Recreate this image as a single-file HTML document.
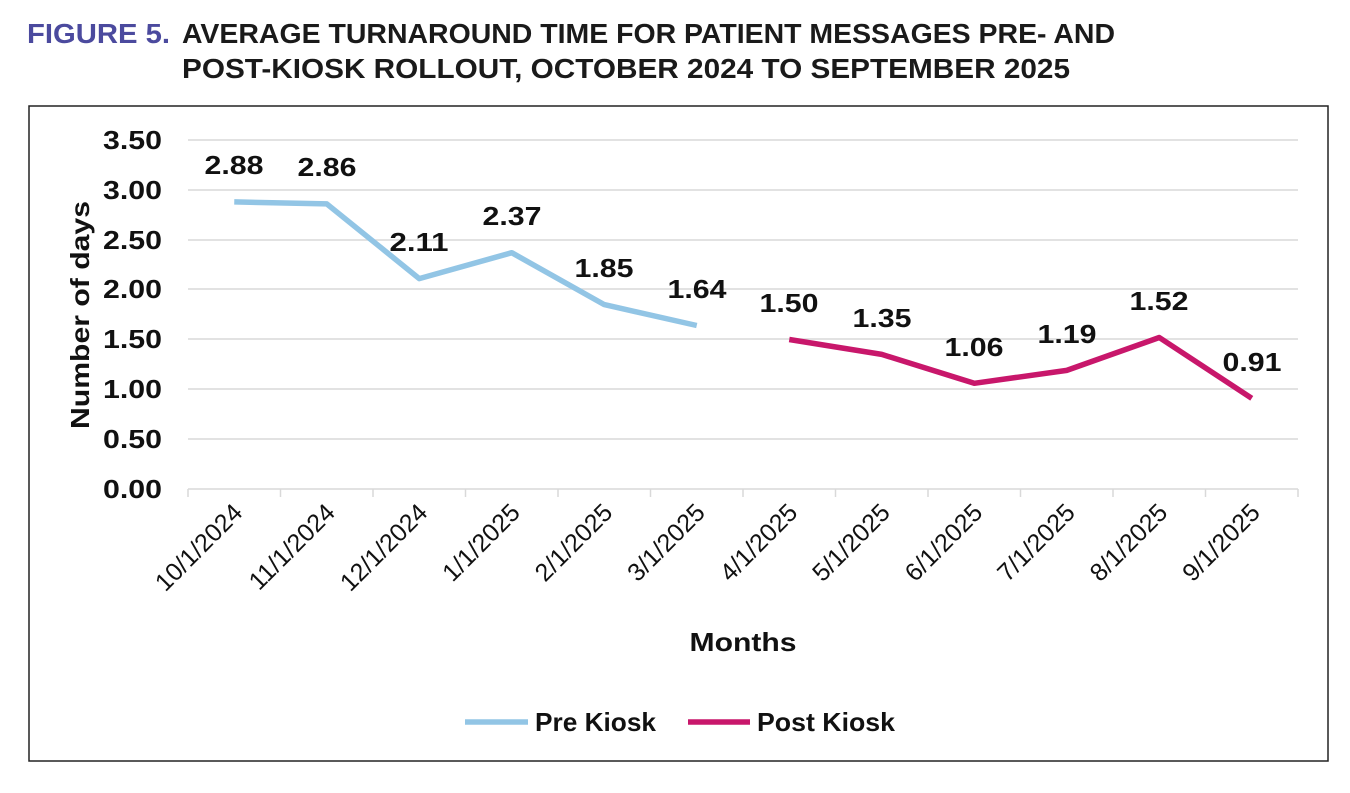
<!DOCTYPE html>
<html><head><style>
body{margin:0;background:#fff;}
svg{display:block;font-family:"Liberation Sans",Arial,sans-serif;}
</style></head><body>
<svg width="1350" height="793" viewBox="0 0 1350 793">
<text x="27" y="43" font-size="28" font-weight="bold" fill="#4b4a9e" textLength="143" lengthAdjust="spacingAndGlyphs">FIGURE 5.</text>
<text x="182" y="43" font-size="28" font-weight="bold" fill="#1a1a1a" textLength="933" lengthAdjust="spacingAndGlyphs">AVERAGE TURNAROUND TIME FOR PATIENT MESSAGES PRE- AND</text>
<text x="182" y="78" font-size="28" font-weight="bold" fill="#1a1a1a" textLength="888" lengthAdjust="spacingAndGlyphs">POST-KIOSK ROLLOUT, OCTOBER 2024 TO SEPTEMBER 2025</text>
<rect x="29" y="106" width="1299" height="655" fill="none" stroke="#222" stroke-width="1.5"/>
<g stroke="#d9d9d9" stroke-width="1.5">
<line x1="188" y1="140" x2="1298" y2="140"/><line x1="188" y1="190" x2="1298" y2="190"/>
<line x1="188" y1="240" x2="1298" y2="240"/><line x1="188" y1="289" x2="1298" y2="289"/>
<line x1="188" y1="339" x2="1298" y2="339"/><line x1="188" y1="389" x2="1298" y2="389"/>
<line x1="188" y1="439" x2="1298" y2="439"/><line x1="188" y1="489" x2="1298" y2="489"/>
<line x1="188" y1="489" x2="188" y2="497"/><line x1="280.5" y1="489" x2="280.5" y2="497"/>
<line x1="373" y1="489" x2="373" y2="497"/><line x1="465.5" y1="489" x2="465.5" y2="497"/>
<line x1="558" y1="489" x2="558" y2="497"/><line x1="650.5" y1="489" x2="650.5" y2="497"/>
<line x1="743" y1="489" x2="743" y2="497"/><line x1="835.5" y1="489" x2="835.5" y2="497"/>
<line x1="928" y1="489" x2="928" y2="497"/><line x1="1020.5" y1="489" x2="1020.5" y2="497"/>
<line x1="1113" y1="489" x2="1113" y2="497"/><line x1="1205.5" y1="489" x2="1205.5" y2="497"/>
<line x1="1298" y1="489" x2="1298" y2="497"/>
</g>
<g font-size="26" font-weight="bold" fill="#111" text-anchor="end">
<text x="162" y="149" textLength="59" lengthAdjust="spacingAndGlyphs">3.50</text><text x="162" y="199" textLength="59" lengthAdjust="spacingAndGlyphs">3.00</text><text x="162" y="249" textLength="59" lengthAdjust="spacingAndGlyphs">2.50</text>
<text x="162" y="298" textLength="59" lengthAdjust="spacingAndGlyphs">2.00</text><text x="162" y="348" textLength="59" lengthAdjust="spacingAndGlyphs">1.50</text><text x="162" y="398" textLength="59" lengthAdjust="spacingAndGlyphs">1.00</text>
<text x="162" y="448" textLength="59" lengthAdjust="spacingAndGlyphs">0.50</text><text x="162" y="498" textLength="59" lengthAdjust="spacingAndGlyphs">0.00</text>
</g>
<text transform="translate(89,315) rotate(-90)" font-size="26" font-weight="bold" text-anchor="middle" fill="#111" textLength="228" lengthAdjust="spacingAndGlyphs">Number of days</text>
<g font-size="25" fill="#111" text-anchor="end">
<text transform="translate(244,514) rotate(-45)">10/1/2024</text>
<text transform="translate(336.5,514) rotate(-45)">11/1/2024</text>
<text transform="translate(429,514) rotate(-45)">12/1/2024</text>
<text transform="translate(521.5,514) rotate(-45)">1/1/2025</text>
<text transform="translate(614,514) rotate(-45)">2/1/2025</text>
<text transform="translate(706.5,514) rotate(-45)">3/1/2025</text>
<text transform="translate(799,514) rotate(-45)">4/1/2025</text>
<text transform="translate(891.5,514) rotate(-45)">5/1/2025</text>
<text transform="translate(984,514) rotate(-45)">6/1/2025</text>
<text transform="translate(1076.5,514) rotate(-45)">7/1/2025</text>
<text transform="translate(1169,514) rotate(-45)">8/1/2025</text>
<text transform="translate(1261.5,514) rotate(-45)">9/1/2025</text>
</g>
<text x="743" y="651" font-size="26" font-weight="bold" text-anchor="middle" fill="#111" textLength="107" lengthAdjust="spacingAndGlyphs">Months</text>
<polyline points="234.25,201.9 326.75,203.9 419.25,278.6 511.75,252.7 604.25,304.6 696.75,325.5" fill="none" stroke="#92c5e5" stroke-width="5.5" stroke-linejoin="round"/>
<polyline points="789.25,339.5 881.75,354.4 974.25,383.3 1066.75,370.4 1159.25,337.5 1251.75,398.3" fill="none" stroke="#c8176b" stroke-width="5.5" stroke-linejoin="round"/>
<g font-size="26" font-weight="bold" fill="#111" text-anchor="middle">
<text x="234" y="174" textLength="59" lengthAdjust="spacingAndGlyphs">2.88</text><text x="327" y="176" textLength="59" lengthAdjust="spacingAndGlyphs">2.86</text><text x="419" y="251" textLength="59" lengthAdjust="spacingAndGlyphs">2.11</text>
<text x="512" y="225" textLength="59" lengthAdjust="spacingAndGlyphs">2.37</text><text x="604" y="277" textLength="59" lengthAdjust="spacingAndGlyphs">1.85</text><text x="697" y="298" textLength="59" lengthAdjust="spacingAndGlyphs">1.64</text>
<text x="789" y="312" textLength="59" lengthAdjust="spacingAndGlyphs">1.50</text><text x="882" y="327" textLength="59" lengthAdjust="spacingAndGlyphs">1.35</text><text x="974" y="356" textLength="59" lengthAdjust="spacingAndGlyphs">1.06</text>
<text x="1067" y="343" textLength="59" lengthAdjust="spacingAndGlyphs">1.19</text><text x="1159" y="310" textLength="59" lengthAdjust="spacingAndGlyphs">1.52</text><text x="1252" y="371" textLength="59" lengthAdjust="spacingAndGlyphs">0.91</text>
</g>
<line x1="465" y1="722" x2="528" y2="722" stroke="#92c5e5" stroke-width="5.5"/>
<text x="535" y="731" font-size="26" font-weight="bold" fill="#111" textLength="121" lengthAdjust="spacingAndGlyphs">Pre Kiosk</text>
<line x1="688" y1="722" x2="750" y2="722" stroke="#c8176b" stroke-width="5.5"/>
<text x="757" y="731" font-size="26" font-weight="bold" fill="#111" textLength="138" lengthAdjust="spacingAndGlyphs">Post Kiosk</text>
</svg>
</body></html>
